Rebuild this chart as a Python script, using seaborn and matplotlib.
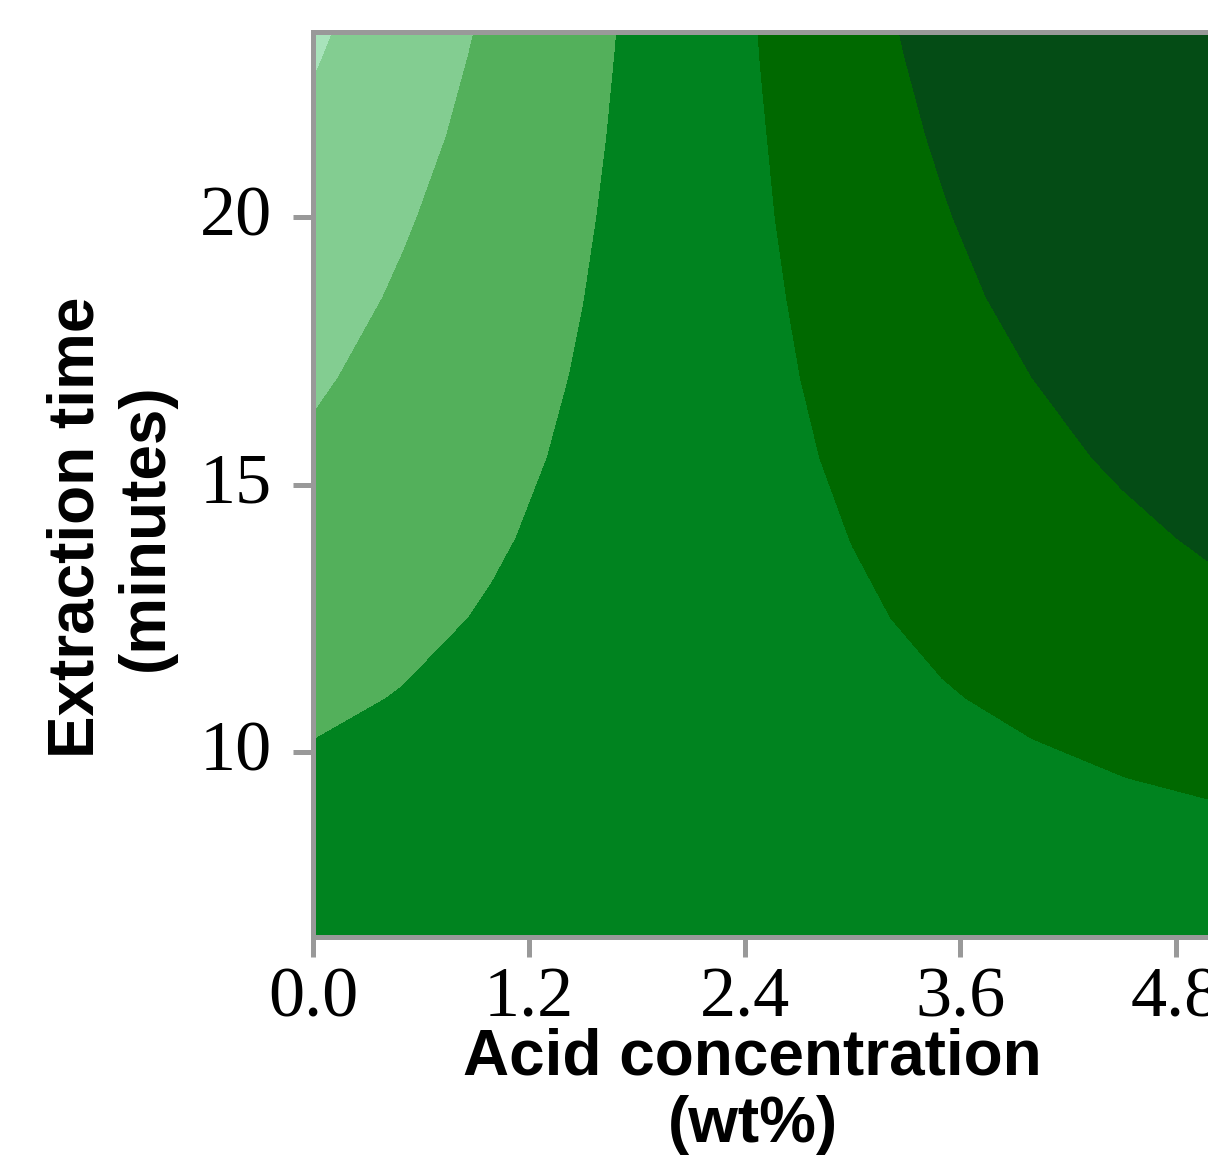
import numpy as np
import matplotlib
matplotlib.use("Agg")
import matplotlib.pyplot as plt
import matplotlib.transforms as mtransforms
import seaborn as sns

# Acid concentration (wt%) grid positions
acid_conc = [0.0, 0.5, 1.0, 1.5, 2.0, 2.5, 3.0, 3.5, 4.0, 4.5, 5.0]
# Extraction time (minutes) grid positions
extraction_time = [6.5, 8.0, 9.5, 11.0, 12.5, 14.0, 15.5, 17.0, 18.5, 20.0, 21.5, 23.0, 24.5]
# Response values (rows = extraction time, cols = acid concentration)
response = [
    [3.64, 3.63, 3.61, 3.59, 3.57, 3.54, 3.52, 3.49, 3.46, 3.44, 3.41],
    [3.38, 3.43, 3.47, 3.51, 3.54, 3.58, 3.61, 3.64, 3.68, 3.71, 3.75],
    [3.12, 3.23, 3.33, 3.43, 3.52, 3.61, 3.71, 3.80, 3.89, 3.99, 4.09],
    [2.87, 3.03, 3.19, 3.35, 3.50, 3.66, 3.81, 3.96, 4.11, 4.27, 4.43],
    [2.62, 2.84, 3.06, 3.27, 3.49, 3.70, 3.91, 4.12, 4.33, 4.55, 4.77],
    [2.38, 2.66, 2.93, 3.20, 3.47, 3.74, 4.01, 4.28, 4.56, 4.83, 5.11],
    [2.13, 2.47, 2.80, 3.13, 3.46, 3.79, 4.12, 4.45, 4.78, 5.11, 5.45],
    [1.89, 2.28, 2.67, 3.06, 3.45, 3.84, 4.22, 4.61, 5.00, 5.40, 5.79],
    [1.65, 2.10, 2.55, 2.99, 3.44, 3.88, 4.33, 4.78, 5.23, 5.68, 6.14],
    [1.41, 1.92, 2.42, 2.92, 3.43, 3.93, 4.43, 4.94, 5.45, 5.96, 6.48],
    [1.17, 1.73, 2.29, 2.85, 3.41, 3.97, 4.54, 5.10, 5.67, 6.24, 6.81],
    [0.93, 1.55, 2.17, 2.78, 3.40, 4.02, 4.64, 5.26, 5.88, 6.51, 7.15],
    [0.69, 1.36, 2.04, 2.71, 3.38, 4.06, 4.74, 5.42, 6.10, 6.79, 7.48],
]
band_levels = [-100, 1, 2, 3, 4, 5, 100]
band_colors = ['#a8e3bb', '#83cd91', '#53b05b', '#00831f', '#006900', '#044c15']

x_ticks = [0.0, 1.2, 2.4, 3.6, 4.8]
x_tick_labels = ["0.0", "1.2", "2.4", "3.6", "4.8"]
y_ticks = [10, 15, 20]
y_tick_labels = ["10", "15", "20"]

sns.set_style("white")
plt.rcParams['font.family'] = ['Liberation Sans', 'DejaVu Sans']

fig = plt.figure(figsize=(12.08, 11.58), dpi=100)
ax = fig.add_axes([0.2591, 0.1912, 0.7442, 0.7808])

ax.contourf(acid_conc, extraction_time, np.array(response),
            levels=band_levels, colors=band_colors, antialiased=False)
ax.set_xlim(0, 5.0)
ax.set_ylim(6.55, 23.45)

grey = '#999999'
for sp in ax.spines.values():
    sp.set_color(grey)
    sp.set_linewidth(3.6)
    sp.set_visible(True)

ax.set_xticks(x_ticks)
ax.set_xticklabels(x_tick_labels)
ax.set_yticks(y_ticks)
ax.set_yticklabels(y_tick_labels)
ax.tick_params(axis='both', which='major', direction='out', length=14.4, width=3.6,
               color=grey, labelsize=52, labelcolor='black',
               bottom=True, left=True, top=False, right=False)
ax.tick_params(axis='x', pad=7)
ax.tick_params(axis='y', pad=15)
for lab in ax.get_xticklabels() + ax.get_yticklabels():
    lab.set_fontfamily(['Liberation Serif', 'DejaVu Serif'])
# y tick labels sit slightly above their ticks in the reference
up = mtransforms.ScaledTranslation(0, 7 / 100, fig.dpi_scale_trans)
for lab in ax.get_yticklabels():
    lab.set_transform(lab.get_transform() + up)

ax.set_xlabel("Acid concentration\n(wt%)", fontsize=46, fontweight='bold',
              color='black', linespacing=1.15)
ax.xaxis.set_label_coords(0.489, -0.101)
ax.xaxis.label.set_va('top')
ax.set_ylabel("Extraction time\n(minutes)", fontsize=46, fontweight='bold',
              color='black', linespacing=1.18)
ax.yaxis.set_label_coords(-0.153, 0.453)
ax.grid(False)

fig.savefig("out.png", dpi=100)
